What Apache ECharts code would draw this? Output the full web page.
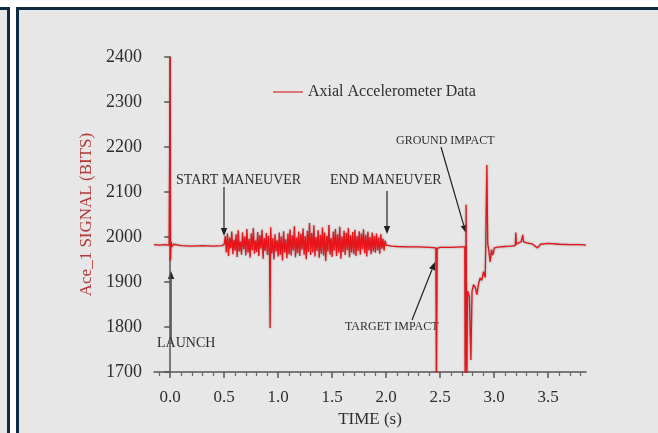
<!DOCTYPE html>
<html>
<head>
<meta charset="utf-8">
<script src="https://cdn.jsdelivr.net/npm/echarts@6/dist/echarts.min.js"></script>
<style>
  html, body { margin: 0; padding: 0; background: #fff; }
  #page { position: relative; width: 658px; height: 433px; overflow: hidden; background: #fff; }
  .panel { position: absolute; background: #e7e7e7; box-sizing: border-box; }
  #side { left: -20px; top: 7px; width: 30px; height: 440px; border-top: 3px solid #0d2b42; border-right: 3px solid #0d2b42; }
  #main { left: 16px; top: 7px; width: 700px; height: 440px; border-top: 3px solid #0d2b42; border-left: 3px solid #0d2b42; }
  #chart { position: absolute; left: 0; top: 0; width: 658px; height: 433px; }
</style>
</head>
<body>
<div id="page">
  <div class="panel" id="side"></div>
  <div class="panel" id="main"></div>
  <div id="chart"></div>
</div>
<script>
// quiet parts of the record, [time (s), bits]
var quietPoints = [
  [-0.15, 1983], [-0.10, 1982], [-0.05, 1983], [-0.01, 1982],
  [0.0, 2400], [0.003, 1948], [0.008, 1990], [0.015, 1978], [0.03, 1984],
  [0.10, 1981], [0.20, 1980], [0.30, 1981], [0.40, 1980], [0.48, 1981],
  [0.925, 1798],
  [2.05, 1980], [2.10, 1979], [2.20, 1978], [2.30, 1978], [2.40, 1977],
  [2.46, 1976], [2.465, 1660], [2.472, 1975], [2.50, 1977], [2.60, 1977],
  [2.70, 1978], [2.728, 1978], [2.731, 1660], [2.740, 2072], [2.746, 1660],
  [2.753, 1880], [2.770, 1868], [2.784, 1727], [2.795, 1880], [2.809, 1894],
  [2.825, 1888], [2.840, 1872], [2.855, 1896], [2.870, 1909], [2.885, 1904],
  [2.901, 1923], [2.917, 1910], [2.932, 2160], [2.940, 1985], [2.948, 1974],
  [2.963, 1945], [2.975, 1972], [2.985, 1960], [2.994, 1965], [3.00, 1976],
  [3.05, 1978], [3.10, 1979], [3.15, 1980], [3.195, 1981], [3.20, 2010],
  [3.205, 1984], [3.22, 1988], [3.25, 1990], [3.265, 2005], [3.27, 1990],
  [3.30, 1987], [3.35, 1985], [3.40, 1976], [3.43, 1984], [3.50, 1986],
  [3.60, 1984], [3.70, 1983], [3.80, 1983], [3.85, 1982]
];

// maneuver vibration, one reading every 0.01 s from 0.50 s
var noiseStart = 0.5;
var noiseStep = 0.01;
var noiseValues = [
  1984, 2002, 1966, 2008, 1958, 1999, 1975, 2012, 1962, 1994,
  1970, 2006, 1956, 2015, 1968, 1990, 1961, 2010, 1973, 2001,
  1959, 2018, 1966, 1996, 1954, 2008, 1971, 2020, 1963, 1992,
  1967, 2011, 1958, 2004, 1974, 2016, 1952, 1998, 1969, 2009,
  1960, 2003, 1955, 2022, 1964, 1997, 1950, 2006, 1968, 1993,
  1957, 2010, 1961, 2001, 1948, 2013, 1966, 1995, 1953, 2008,
  1962, 2017, 1959, 2004, 1970, 2024, 1955, 1999, 1964, 2012,
  1958, 2007, 1972, 2019, 1961, 2002, 1951, 2014, 1967, 2031,
  1960, 2009, 1966, 2026, 1957, 2000, 1969, 2015, 1954, 2005,
  1963, 2021, 1959, 2010, 1947, 2003, 1968, 2027, 1961, 1998,
  1956, 2012, 1970, 2018, 1958, 2006, 1965, 2023, 1952, 2001,
  1967, 2014, 1960, 2009, 1971, 2020, 1955, 2004, 1966, 2011,
  1962, 2016, 1958, 2002, 1969, 2013, 1961, 2008, 1973, 2017,
  1964, 2005, 1957, 2012, 1970, 2000, 1962, 2010, 1968, 2003,
  1965, 2008, 1971, 1999, 1963, 2006, 1974, 1996, 1970, 1992,
  1982
];

var xMajorTicks = [0.0, 0.5, 1.0, 1.5, 2.0, 2.5, 3.0, 3.5];
var xMinorTicks = [-0.1, 0.1, 0.2, 0.3, 0.4, 0.6, 0.7, 0.8, 0.9, 1.1, 1.2, 1.3, 1.4,
  1.6, 1.7, 1.8, 1.9, 2.1, 2.2, 2.3, 2.4, 2.6, 2.7, 2.8, 2.9, 3.1, 3.2, 3.3, 3.4,
  3.6, 3.7, 3.8];

var signal = quietPoints.slice();
noiseValues.forEach(function (v, i) {
  signal.push([+(noiseStart + i * noiseStep).toFixed(3), v]);
});
signal.sort(function (a, b) { return a[0] - b[0]; });

var serif = "'Liberation Serif', 'Times New Roman', serif";
var ink = "#2e2e2e";

// arrow = shaft + head at (x2, y2)
function arrow(x1, y1, x2, y2) {
  var a = Math.atan2(y2 - y1, x2 - x1);
  var len = 8, w = 3.2;
  var bx = x2 - len * Math.cos(a), by = y2 - len * Math.sin(a);
  var px = -Math.sin(a) * w, py = Math.cos(a) * w;
  return [
    { type: "line", shape: { x1: x1, y1: y1, x2: bx, y2: by }, style: { stroke: "#222", lineWidth: 1.2 } },
    { type: "polygon", shape: { points: [[x2, y2], [bx + px, by + py], [bx - px, by - py]] }, style: { fill: "#222" } }
  ];
}
function label(text, x, y, size) {
  return {
    type: "text", x: x, y: y,
    style: { text: text, fill: ink, font: size + "px " + serif, textAlign: "left", textVerticalAlign: "middle" }
  };
}

var graphics = [].concat(
  label("START MANEUVER", 176, 180, 14),
  arrow(224, 187, 224, 236),
  label("END MANEUVER", 330, 180, 14),
  arrow(387, 191, 387, 234),
  label("LAUNCH", 157, 343, 14),
  arrow(171, 339, 171, 271),
  label("GROUND IMPACT", 396, 141, 12),
  arrow(441, 147, 466, 233),
  label("TARGET IMPACT", 345, 327, 12),
  arrow(412, 320, 435, 262)
);

var chart = echarts.init(document.getElementById("chart"));
chart.setOption({
  backgroundColor: "transparent",
  animation: false,
  grid: { left: 154, right: 72, top: 57, bottom: 53.5 },
  legend: {
    left: 273, top: 84, padding: 0, itemWidth: 30, itemHeight: 1.6, itemGap: 5,
    icon: "rect",
    itemStyle: { color: "#d9595e" },
    textStyle: { fontFamily: serif, fontSize: 16, color: ink },
    data: ["Axial Accelerometer Data"]
  },
  xAxis: [{
    type: "value", min: -0.15, max: 3.85,
    name: "TIME (s)", nameLocation: "middle", nameGap: 31,
    nameTextStyle: { fontFamily: serif, fontSize: 17, color: ink },
    splitLine: { show: false },
    axisLine: { lineStyle: { color: "#555", width: 1.5 } },
    axisTick: { customValues: xMajorTicks, length: 6, lineStyle: { color: "#555", width: 1.5 } },
    axisLabel: {
      customValues: xMajorTicks, margin: 17, fontFamily: serif, fontSize: 17, color: ink,
      formatter: function (v) { return v.toFixed(1); }
    }
  }, {
    type: "value", min: -0.15, max: 3.85, position: "bottom", offset: 0,
    splitLine: { show: false },
    axisLine: { show: false },
    axisTick: { customValues: xMinorTicks, length: 4, lineStyle: { color: "#666", width: 1.2 } },
    axisLabel: { show: false }
  }],
  yAxis: {
    type: "value", min: 1700, max: 2400, interval: 100,
    name: "Ace_1 SIGNAL (BITS)", nameLocation: "middle", nameGap: 57,
    nameTextStyle: { fontFamily: serif, fontSize: 17, color: "#b3383b" },
    splitLine: { show: false },
    axisLine: { show: true, lineStyle: { color: "#555", width: 1.5 } },
    axisTick: { show: true, length: 6, lineStyle: { color: "#555", width: 1.5 } },
    axisLabel: {
      margin: 12, fontFamily: serif, fontSize: 18, color: ink,
      formatter: function (v) { return String(v); }
    }
  },
  series: [{
    name: "Axial Accelerometer Data",
    type: "line",
    data: signal,
    symbol: "none",
    sampling: null,
    clip: true,
    color: "#e8141a",
    lineStyle: { width: 1.3, color: "#e8141a", shadowColor: "rgba(70,70,70,0.55)", shadowBlur: 2 }
  }],
  graphic: graphics
});
</script>
</body>
</html>
